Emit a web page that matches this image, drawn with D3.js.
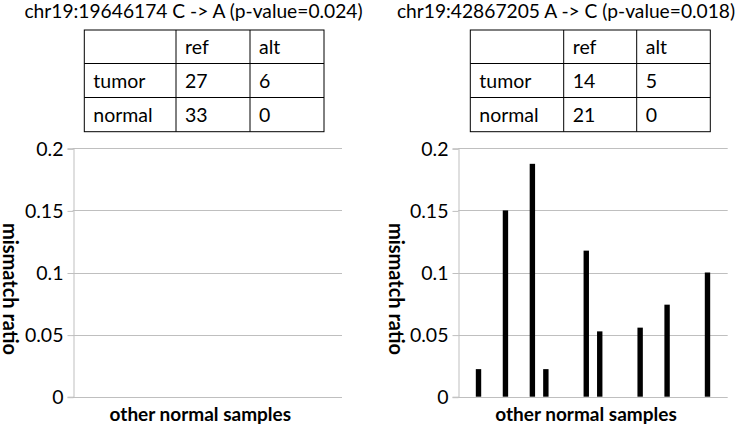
<!DOCTYPE html>
<html><head><meta charset="utf-8">
<script src="https://cdn.jsdelivr.net/npm/d3@7"></script>
<style>body{margin:0;background:#fff}svg{display:block}text{font-family:Lato,"Open Sans",sans-serif}</style>
</head><body><div id="c"></div>
<script>
const titles = ["chr19:19646174 C -> A (p-value=0.024)", "chr19:42867205 A -> C (p-value=0.018)"];
const tableCols = ["", "ref", "alt"];
const tableRows = ["tumor", "normal"];
const tableLeft = [[27, 6], [33, 0]];
const tableRight = [[14, 5], [21, 0]];
const samples = d3.range(1, 21).map(i => "S" + i);
const valuesLeft = samples.map(() => 0);
const valuesRight = [0, 0.0222, 0, 0.15, 0, 0.1875, 0.0222, 0, 0, 0.1176, 0.0526, 0, 0, 0.0556, 0, 0.0741, 0, 0, 0.1, 0];
const tickValues = [0, 0.05, 0.1, 0.15, 0.2];
const tickLabels = ["0", "0.05", "0.1", "0.15", "0.2"];
const yLabel = "mismatch ratio";
const xLabel = "other normal samples";

const W = 742, H = 427;
const svg = d3.select("#c").append("svg").attr("width", W).attr("height", H);

const panels = [
  {title: titles[0], titleX: 193.5, table: tableLeft, tx: [84.3, 176, 250, 324], plot: [72.7, 342], ylabX: 3, values: valuesLeft},
  {title: titles[1], titleX: 566, table: tableRight, tx: [470.3, 563.7, 636.7, 710.3], plot: [458.3, 727.7], ylabX: 389, values: valuesRight}
];
const ty = [30, 63.5, 97.5, 131.7];
const FS = 19.5;

panels.forEach(p => {
  const g = svg.append("g");
  g.append("text").attr("x", p.titleX).attr("y", 18).attr("text-anchor", "middle")
    .attr("font-size", 19.2).attr("fill", "#000").text(p.title);
  const tg = g.append("g");
  tg.append("rect").attr("x", p.tx[0]).attr("y", ty[0]).attr("width", p.tx[3] - p.tx[0]).attr("height", ty[3] - ty[0])
    .attr("fill", "none").attr("stroke", "#000").attr("stroke-width", 1);
  [1, 2].forEach(i => {
    tg.append("line").attr("x1", p.tx[i]).attr("x2", p.tx[i]).attr("y1", ty[0]).attr("y2", ty[3]).attr("stroke", "#000");
    tg.append("line").attr("x1", p.tx[0]).attr("x2", p.tx[3]).attr("y1", ty[i]).attr("y2", ty[i]).attr("stroke", "#000");
  });
  const cells = [tableCols].concat(tableRows.map((r, i) => [r].concat(p.table[i])));
  cells.forEach((row, ri) => row.forEach((c, ci) => {
    tg.append("text").attr("x", p.tx[ci] + 9).attr("y", ty[ri] + 24).attr("font-size", FS).attr("fill", "#000").text(c);
  }));
  const x = d3.scaleBand().domain(samples).range(p.plot).paddingInner(0.6).paddingOuter(0.3);
  const y = d3.scaleLinear().domain([0, 0.2]).range([396.7, 148.3]);
  const cg = g.append("g");
  cg.selectAll("line.grid").data(tickValues).enter().append("line")
    .attr("x1", p.plot[0]).attr("x2", p.plot[1]).attr("y1", d => Math.round(y(d)) + 0.5).attr("y2", d => Math.round(y(d)) + 0.5)
    .attr("stroke", "#bfbfbf").attr("stroke-width", 1);
  const ax = cg.append("g").attr("transform", `translate(${Math.round(p.plot[0]) + 0.5},0)`)
    .call(d3.axisLeft(y).tickValues(tickValues).tickFormat((d, i) => tickLabels[i]).tickSize(6).tickPadding(4));
  ax.select(".domain").attr("stroke", "#bfbfbf");
  ax.selectAll(".tick line").attr("stroke", "#bfbfbf").attr("transform", "translate(0,0.5)");
  ax.selectAll(".tick text").attr("font-size", FS).attr("fill", "#000").attr("font-family", "Lato, sans-serif").attr("dy", "0.35em");
  cg.selectAll("rect.bar").data(samples.map((s, i) => ({s, v: p.values[i]})).filter(d => d.v > 0)).enter().append("rect")
    .attr("x", d => x(d.s)).attr("width", x.bandwidth()).attr("y", d => y(d.v)).attr("height", d => y(0) - y(d.v)).attr("fill", "#000");
  g.append("text").attr("transform", `translate(${p.ylabX},289) rotate(90)`).attr("text-anchor", "middle")
    .attr("font-size", 20).attr("font-weight", "bold").attr("fill", "#000").text(yLabel);
  g.append("text").attr("x", (p.plot[0] + p.plot[1]) / 2 - 7).attr("y", 421).attr("text-anchor", "middle")
    .attr("font-size", 19).attr("font-weight", "bold").attr("fill", "#000").text(xLabel);
});
</script></body></html>
